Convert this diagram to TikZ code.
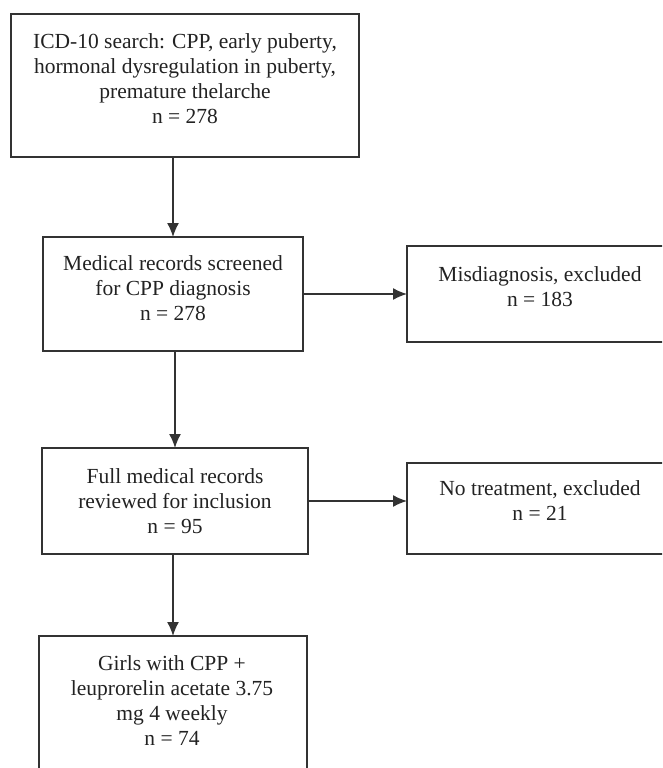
\documentclass[tikz,border=0pt]{standalone}
\usepackage{fontspec}
\setmainfont{Liberation Serif}
\usetikzlibrary{arrows.meta}
\definecolor{linec}{HTML}{333333}
\definecolor{textc}{HTML}{222222}
\begin{document}
\begin{tikzpicture}[x=1pt,y=-1pt,
  box/.style={draw=linec, line width=1.6pt, rectangle, anchor=north west, inner sep=0pt, outer sep=0pt},
  txt/.style={anchor=north, align=center, inner sep=0pt, font=\fontsize{21.5}{25}\selectfont, text=textc},
  arr/.style={draw=linec, line width=1.5pt, -{Latex[length=14pt,width=12pt]}}]
\useasboundingbox (0,0) rectangle (662,768);
\clip (0,0) rectangle (662,768);
% boxes
\node[box, minimum width=348pt, minimum height=143pt] (b1) at (11,14) {};
\node[box, minimum width=260pt, minimum height=114pt] (b2) at (43,237) {};
\node[box, minimum width=280pt, minimum height=96pt] (r1) at (407,246) {};
\node[box, minimum width=266pt, minimum height=106pt] (b3) at (42,448) {};
\node[box, minimum width=280pt, minimum height=91pt] (r2) at (407,463) {};
\node[box, minimum width=268pt, minimum height=150pt] (b4) at (39,636) {};
% texts
\node[txt] (t1) at (185,30.5) {\strut ICD-10 search: CPP, early puberty,\\hormonal dysregulation in puberty,\\premature thelarche\\n = 278};
\node[txt] (t2) at (173,252.5) {\strut Medical records screened\\for CPP diagnosis\\n = 278};
\node[txt] (tr1) at (540,263.5) {\strut Misdiagnosis, excluded\\n = 183};
\node[txt] (t3) at (175,465.5) {\strut Full medical records\\reviewed for inclusion\\n = 95};
\node[txt] (tr2) at (540,477.5) {\strut No treatment, excluded\\n = 21};
\node[txt] (t4) at (172,652.5) {\strut Girls with CPP +\\leuprorelin acetate 3.75\\mg 4 weekly\\n = 74};
% arrows
\draw[arr] (b2.north |- b1.south) -- (b2.north);
\draw[arr] (b3.north |- b2.south) -- (b3.north);
\draw[arr] (b4.north |- b3.south) -- (b4.north);
\draw[arr] (b2.east) -- (b2.east -| r1.west);
\draw[arr] (b3.east) -- (b3.east -| r2.west);
\end{tikzpicture}
\end{document}
